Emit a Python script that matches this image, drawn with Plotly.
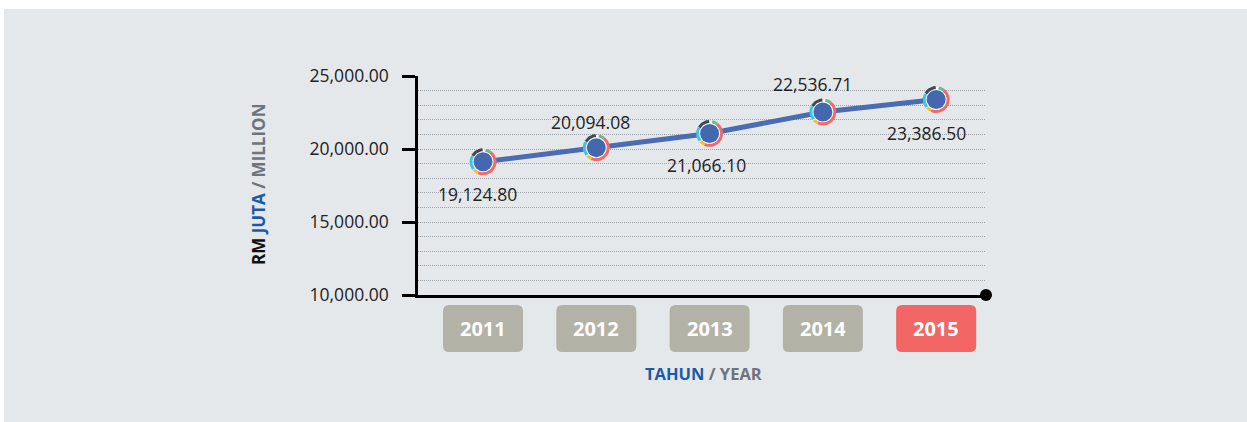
import numpy as np
import plotly.graph_objects as go

# data
years = [2011, 2012, 2013, 2014, 2015]
values = [19124.80, 20094.08, 21066.10, 22536.71, 23386.50]
labels = ["19,124.80", "20,094.08", "21,066.10", "22,536.71", "23,386.50"]
label_shift = [(-6, -32), (-6, 26), (-3, -32), (-10, 28), (-10, -33)]
box_colors = ["#b3b2a6", "#b3b2a6", "#b3b2a6", "#b3b2a6", "#f26766"]
tick_vals = [10000, 15000, 20000, 25000]
tick_text = ["10,000.00", "15,000.00", "20,000.00", "25,000.00"]

W, H = 1247, 422
L, R, T, B = 418, 261, 76, 127
pw, ph = W - L - R, H - T - B
xr = [2010.426, 2015.44]
yr = [10000, 25000]
px_x = pw / (xr[1] - xr[0])
px_y = ph / (yr[1] - yr[0])

fig = go.Figure()

# main line
fig.add_trace(go.Scatter(x=years, y=values, mode="lines",
                         line=dict(color="#4a6cb3", width=5), hoverinfo="skip"))
# white disc behind ring
fig.add_trace(go.Scatter(x=years, y=values, mode="markers",
                         marker=dict(size=25, color="white"), hoverinfo="skip"))

# coloured ring round each point (angles clockwise from top)
segs = [("#5cbf8c", 12, 38), ("#f06a6a", 38, 205), ("#f6c02c", 205, 228),
        ("#3fc3e8", 232, 298), ("#3c4a57", 300, 358)]
rad = 12
for col, a0, a1 in segs:
    xs, ys = [], []
    for xv, yv in zip(years, values):
        a = np.radians(np.linspace(a0, a1, 20))
        xs += list(xv + rad * np.sin(a) / px_x) + [None]
        ys += list(yv + rad * np.cos(a) / px_y) + [None]
    fig.add_trace(go.Scatter(x=xs, y=ys, mode="lines", line=dict(color=col, width=3),
                             hoverinfo="skip"))

# blue dots
fig.add_trace(go.Scatter(x=years, y=values, mode="markers",
                         marker=dict(size=19, color="#4468b0"), hoverinfo="skip"))

# end dot of x axis
fig.add_trace(go.Scatter(x=[xr[1]], y=[yr[0]], mode="markers", cliponaxis=False,
                         marker=dict(size=12, color="black"), hoverinfo="skip"))

# panel background
shapes = [dict(type="rect", xref="paper", yref="paper", layer="below",
               x0=(4 - L) / pw, x1=(W - L) / pw, y0=-B / ph, y1=(H - 9 - B) / ph,
               fillcolor="#e5e8eb", line=dict(width=0))]

# rounded year boxes
hw = 40 / px_x
rx, ry = 6 / px_x, 6 / ph
y_top, y_bot = -10 / ph, -57 / ph
for yv, col in zip(years, box_colors):
    x0, x1 = yv - hw, yv + hw
    path = (f"M {x0+rx},{y_top} L {x1-rx},{y_top} Q {x1},{y_top} {x1},{y_top-ry} "
            f"L {x1},{y_bot+ry} Q {x1},{y_bot} {x1-rx},{y_bot} "
            f"L {x0+rx},{y_bot} Q {x0},{y_bot} {x0},{y_bot+ry} "
            f"L {x0},{y_top-ry} Q {x0},{y_top} {x0+rx},{y_top} Z")
    shapes.append(dict(type="path", xref="x", yref="paper", path=path,
                       fillcolor=col, line=dict(width=0)))

annotations = []
for yv, v, t, (dx, dy) in zip(years, values, labels, label_shift):
    annotations.append(dict(x=yv, y=v, text=t, showarrow=False, xshift=dx, yshift=dy,
                            xanchor="center", yanchor="middle",
                            font=dict(family="Open Sans", size=17.5, color="#222222")))
for yv in years:
    annotations.append(dict(x=yv, y=(y_top + y_bot) / 2, yref="paper", text=f"<b>{yv}</b>",
                            showarrow=False, xanchor="center", yanchor="middle",
                            font=dict(family="Open Sans", size=20, color="white")))
annotations.append(dict(x=(703 - L) / pw, y=(T + ph - 373) / ph, xref="paper", yref="paper",
                        showarrow=False, xanchor="center", yanchor="middle",
                        text="<b><span style='color:#1b5aa7'>TAHUN</span> "
                             "<span style='color:#6d747c'>/ YEAR</span></b>",
                        font=dict(family="Open Sans", size=16.5)))
annotations.append(dict(x=(258 - L) / pw, y=(T + ph - 185) / ph, xref="paper", yref="paper",
                        showarrow=False, textangle=-90, xanchor="center", yanchor="middle",
                        text="<b><span style='color:#111111'>RM</span> "
                             "<span style='color:#1b5aa7'>JUTA</span> "
                             "<span style='color:#6d747c'>/ MILLION</span></b>",
                        font=dict(family="Open Sans", size=17)))

fig.update_layout(
    width=W, height=H, margin=dict(l=L, r=R, t=T, b=B),
    paper_bgcolor="white", plot_bgcolor="rgba(0,0,0,0)",
    showlegend=False, shapes=shapes, annotations=annotations,
    xaxis=dict(range=xr, showgrid=False, zeroline=False, showticklabels=False,
               showline=True, linecolor="black", linewidth=3, fixedrange=True),
    yaxis=dict(range=yr, tickvals=tick_vals, ticktext=tick_text,
               showline=True, linecolor="black", linewidth=2.5,
               ticks="outside", ticklen=13, tickwidth=2.5, tickcolor="black",
               ticklabelstandoff=10,
               tickfont=dict(family="Open Sans", size=17.5, color="#222222"),
               showgrid=True, gridcolor="#9aa0a6", gridwidth=1, griddash="1px,1px",
               minor=dict(dtick=1000, showgrid=True, gridcolor="#9aa0a6",
                          gridwidth=1, griddash="1px,1px"),
               zeroline=False, fixedrange=True),
)

fig.write_html("out.html", config={"displayModeBar": False},
               post_script="document.body.style.margin='0';")
